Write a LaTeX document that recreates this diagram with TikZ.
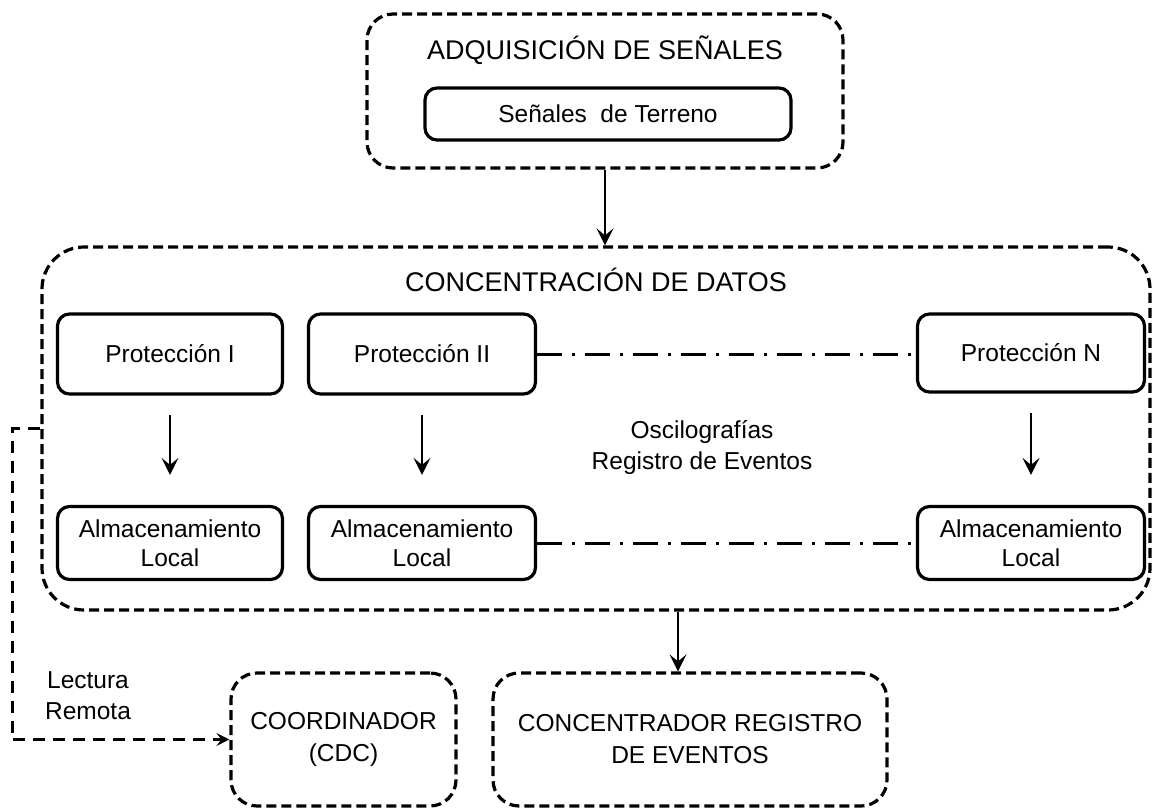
\documentclass[tikz,border=0pt]{standalone}
\usepackage{fontspec}
\setmainfont{Liberation Sans}
\usetikzlibrary{arrows.meta,calc}
\begin{document}
\begin{tikzpicture}[x=1pt,y=-1pt,
  solidbox/.style={draw,line width=3.2pt,rounded corners=12pt,align=center,font=\fontsize{24.5}{29}\selectfont,inner sep=0pt},
  dashbox/.style={draw,line width=3.2pt,rounded corners=#1,dash pattern=on 10pt off 5pt,align=center,inner sep=0pt,font=\fontsize{24.5}{32}\selectfont},
  title/.style={font=\fontsize{27}{32}\selectfont,inner sep=0pt},
  txt/.style={font=\fontsize{24.5}{31}\selectfont,align=center,inner sep=0pt},
  arr/.style={line width=2.4pt,-{Stealth[length=17pt,width=17pt,inset=7pt]}},
  dashdot/.style={line width=3pt,dash pattern=on 25pt off 10pt on 3pt off 10pt},
  remote/.style={line width=3pt,dash pattern=on 12pt off 8pt,-{Stealth[length=13pt,width=13pt,inset=5pt]}}
]
\useasboundingbox (0,0) rectangle (1154,808);

% top group
\node[dashbox=26pt,minimum width=476pt,minimum height=154pt] (adq) at (605,91) {};
\node[title] (adqt) at (605,50) {ADQUISICIÓN DE SEÑALES};
\node[solidbox,minimum width=366pt,minimum height=52pt] (sen) at (608,114) {Señales\ \ de Terreno};

% concentration group
\node[dashbox=42pt,minimum width=1108pt,minimum height=363pt] (conc) at (596,428.5) {};
\node[title] (conct) at (596,280) {CONCENTRACIÓN DE DATOS};

\node[solidbox,minimum width=225pt,minimum height=80pt] (p1) at (170,354) {Protección I};
\node[solidbox,minimum width=227pt,minimum height=80pt] (p2) at (422,354) {Protección II};
\node[solidbox,minimum width=227pt,minimum height=78pt] (pN) at (1031,353) {Protección N};

\node[solidbox,minimum width=225pt,minimum height=73pt] (a1) at (170,543) {Almacenamiento\\Local};
\node[solidbox,minimum width=227pt,minimum height=73pt] (a2) at (422,543) {Almacenamiento\\Local};
\node[solidbox,minimum width=227pt,minimum height=73pt] (aN) at (1031,543) {Almacenamiento\\Local};

\node[txt] (osc) at (702,448) {Oscilografías\\Registro de Eventos};

% bottom boxes
\node[dashbox=26pt,minimum width=225pt,minimum height=133pt] (coord) at (343.5,739.5) {COORDINADOR\\(CDC)};
\node[dashbox=26pt,minimum width=394pt,minimum height=133pt] (crev) at (690,739.5) {CONCENTRADOR REGISTRO\\DE EVENTOS};

\node[txt] (lect) at (88,696) {Lectura\\Remota};

% connectors
\draw[arr] (adq.south) -- (adq.south |- conc.north);
\draw[arr,shorten <=19pt,shorten >=30pt] (p1.south) -- (a1.north);
\draw[arr,shorten <=19pt,shorten >=30pt] (p2.south) -- (a2.north);
\draw[arr,shorten <=19pt,shorten >=30pt] (pN.south) -- (aN.north);
\draw[dashdot] (p2.east) -- (pN.west |- p2.east);
\draw[dashdot] (a2.east) -- (aN.west);
\coordinate (bt) at ([xshift=-12pt]crev.north);
\draw[arr] (bt |- conc.south) -- (bt);
\draw[remote] (conc.west) -- ++(-28,0) |- (coord.west);
\end{tikzpicture}
\end{document}
